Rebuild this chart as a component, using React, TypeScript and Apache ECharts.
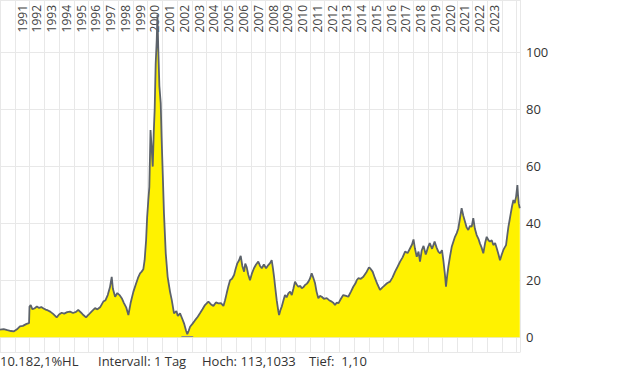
import React, { useEffect, useRef } from "react";
import * as echarts from "echarts";

// fractional years (time axis) and closing values
const dates = [
  1990.0, 1990.25, 1990.5, 1990.75, 1990.95, 1991.15, 1991.35, 1991.55, 1991.8, 1991.97,
  1992.0, 1992.08, 1992.2, 1992.35, 1992.5, 1992.65, 1992.8, 1992.95,
  1993.1, 1993.25, 1993.4, 1993.6, 1993.84,
  1994.0, 1994.18, 1994.35, 1994.55, 1994.74, 1994.95,
  1995.15, 1995.3, 1995.5, 1995.65, 1995.83,
  1996.0, 1996.2, 1996.44, 1996.6, 1996.78,
  1997.0, 1997.15, 1997.3, 1997.45, 1997.57, 1997.65, 1997.8, 1997.95,
  1998.1, 1998.25, 1998.4, 1998.55, 1998.7, 1998.85,
  1999.04, 1999.2, 1999.35, 1999.49, 1999.6, 1999.71, 1999.8, 1999.9, 1999.97,
  2000.05, 2000.12, 2000.2, 2000.28, 2000.35, 2000.42, 2000.48, 2000.55, 2000.62, 2000.67,
  2000.72, 2000.8, 2000.89, 2000.95,
  2001.03, 2001.11, 2001.23, 2001.36, 2001.52, 2001.64, 2001.79, 2001.95,
  2002.05, 2002.2, 2002.35, 2002.47, 2002.6, 2002.69, 2002.78, 2002.88,
  2003.05, 2003.22, 2003.4, 2003.55, 2003.72, 2003.89,
  2004.12, 2004.3, 2004.46, 2004.63, 2004.8, 2004.97,
  2005.14, 2005.25, 2005.36, 2005.48, 2005.59, 2005.72, 2005.86, 2005.97,
  2006.08, 2006.2, 2006.31, 2006.42, 2006.54, 2006.62, 2006.72, 2006.82, 2006.94,
  2007.08, 2007.21, 2007.35, 2007.5, 2007.62, 2007.74, 2007.88,
  2008.03, 2008.18, 2008.3, 2008.41, 2008.5, 2008.57, 2008.66, 2008.75, 2008.85, 2008.91,
  2009.0, 2009.09, 2009.2, 2009.31, 2009.42, 2009.54, 2009.66, 2009.77, 2009.88, 2009.99,
  2010.1, 2010.22, 2010.35, 2010.45, 2010.55, 2010.67, 2010.8, 2010.9,
  2011.0, 2011.12, 2011.22, 2011.35, 2011.45, 2011.57, 2011.68, 2011.8, 2011.95,
  2012.14, 2012.3, 2012.48, 2012.6, 2012.7, 2012.82, 2012.93,
  2013.1, 2013.26, 2013.45, 2013.6, 2013.78, 2013.94,
  2014.1, 2014.17, 2014.28, 2014.45, 2014.62, 2014.85,
  2015.0, 2015.08, 2015.25, 2015.41, 2015.58, 2015.75, 2015.92,
  2016.09, 2016.25, 2016.43, 2016.6, 2016.77, 2016.95,
  2017.11, 2017.28, 2017.45, 2017.62, 2017.79, 2017.92,
  2018.02, 2018.12, 2018.24, 2018.36, 2018.46, 2018.58, 2018.7, 2018.85,
  2019.0, 2019.12, 2019.28, 2019.45, 2019.58, 2019.7, 2019.82, 2019.95,
  2020.04, 2020.15, 2020.22, 2020.3, 2020.38, 2020.5, 2020.61, 2020.72, 2020.83, 2020.95,
  2021.06, 2021.18, 2021.28, 2021.4, 2021.51, 2021.62, 2021.73, 2021.85, 2021.96,
  2022.07, 2022.18, 2022.3, 2022.42, 2022.52, 2022.63, 2022.75, 2022.87, 2022.98,
  2023.1, 2023.2, 2023.32, 2023.43, 2023.55, 2023.66, 2023.78, 2023.88,
  2024.0, 2024.11, 2024.2, 2024.29, 2024.37, 2024.45, 2024.53, 2024.61, 2024.7, 2024.79, 2024.88, 2024.97,
  2025.06, 2025.1, 2025.15, 2025.22,
];

const prices = [
  2.7, 2.9, 2.5, 2.2, 2.1, 2.8, 3.8, 4.0, 4.7, 5.0,
  10.8, 11.3, 9.8, 10.2, 10.8, 10.3, 10.6, 10.1,
  9.7, 9.4, 9.0, 8.2, 7.0,
  8.0, 8.6, 8.3, 8.8, 9.0, 8.5,
  8.9, 9.6, 8.6, 7.8, 7.0,
  7.9, 9.0, 10.2, 9.8, 10.5,
  12.5, 13.0, 14.8, 17.5, 21.2, 17.0, 14.2, 15.5,
  14.8, 13.7, 12.0, 10.5, 7.8, 12.0,
  16.0, 18.5, 20.8, 22.4, 23.0, 23.8, 27.0, 34.0, 42.0,
  48.0, 52.7, 72.6, 66.0, 59.8, 72.0, 79.6, 96.0, 104.0, 113.1,
  102.0, 88.0, 82.0, 70.0,
  57.0, 43.5, 29.5, 21.2, 16.0, 13.0, 8.4, 9.2,
  7.5, 8.4, 6.5, 4.9, 2.5, 1.1, 2.2, 3.7,
  4.8, 6.0, 7.2, 8.4, 9.8, 11.3,
  12.5, 11.5, 11.0, 12.2, 11.9, 12.0,
  11.0, 13.0, 15.4, 18.0, 20.0, 20.5, 21.8, 24.0,
  25.9, 27.0, 28.5, 25.0, 23.0, 25.8, 24.5, 22.0, 20.0,
  22.5, 24.2, 25.5, 26.5, 25.0, 24.2, 25.5,
  24.2, 25.3, 26.0, 27.0, 24.0, 21.2, 17.0, 13.0, 9.5, 7.8,
  9.5, 10.7, 12.8, 14.8, 14.0, 15.4, 16.0, 14.8, 17.0, 19.5,
  18.5, 17.7, 18.0, 17.2, 17.5, 18.3, 18.8, 19.5,
  20.5, 22.4, 21.0, 18.9, 16.0, 13.7, 14.5, 14.2, 13.5,
  13.7, 13.0, 12.5, 12.0, 11.3, 12.2, 11.9,
  13.5, 14.8, 14.5, 14.2, 16.0, 17.7,
  19.0, 20.0, 20.7, 20.5, 21.2, 23.0,
  24.5, 24.2, 23.0, 20.7, 18.5, 16.6, 17.5,
  18.3, 19.0, 19.5, 21.0, 23.0, 24.8,
  26.5, 28.0, 30.0, 29.5, 31.2, 32.5,
  34.3, 31.0, 28.2, 30.0, 26.5, 30.5, 32.0, 29.0,
  31.5, 33.0, 31.0, 33.5, 31.5, 30.0, 29.4, 30.5,
  27.0, 22.0, 17.7, 21.5, 24.7, 28.5, 31.7, 33.5, 35.2, 36.5,
  38.2, 42.0, 45.2, 42.5, 40.5, 38.5, 37.6, 39.0, 38.7,
  41.7, 38.0, 35.8, 34.5, 32.9, 31.5, 29.4, 33.0, 35.2,
  34.0, 33.5, 34.0, 32.3, 33.0, 31.2, 29.0, 27.0,
  29.0, 30.6, 31.5, 32.3, 35.5, 38.7, 41.0, 43.4, 46.0, 48.1, 47.0, 49.2,
  53.3, 50.0, 46.9, 45.2,
];

// year bands 1990..2024; only the labelled years get text
const yearBands = [
  "1990", "1991", "1992", "1993", "1994", "1995", "1996", "1997", "1998", "1999",
  "2000", "2001", "2002", "2003", "2004", "2005", "2006", "2007", "2008", "2009",
  "2010", "2011", "2012", "2013", "2014", "2015", "2016", "2017", "2018", "2019",
  "2020", "2021", "2022", "2023", "2024",
];
const yearLabels = [
  "1991", "1992", "1993", "1994", "1995", "1996", "1997", "1998", "1999", "2000",
  "2001", "2002", "2003", "2004", "2005", "2006", "2007", "2008", "2009", "2010",
  "2011", "2012", "2013", "2014", "2015", "2016", "2017", "2018", "2019", "2020",
  "2021", "2022", "2023",
];
const yTickLabels = [0, 20, 40, 60, 80, 100];
const footerTexts = ["10.182,1%HL", "Intervall: 1 Tag", "Hoch: 113,1033", "Tief:\u00a0 1,10"];
const footerX = [0, 98, 202, 309];

const X_MIN = 1990;
const X_MAX = 2025.27;
const Y_MIN = -5.15;
const Y_MAX = 118.15;
const FONT = "'Open Sans', 'Noto Sans', sans-serif";

const PLOT_W = 520.5;
const PLOT_H = 352;

export default function App() {
  const ref = useRef<HTMLDivElement>(null);

  useEffect(() => {
    if (!ref.current) return;
    const chart = echarts.init(ref.current, null, { renderer: "svg" });
    const data = dates.map((d, i) => [d, prices[i]]);
    let lowIdx = 0;
    prices.forEach((p, i) => {
      if (p < prices[lowIdx]) lowIdx = i;
    });
    const lowX = dates[lowIdx];
    const lowV = prices[lowIdx];
    const pxPerYear = PLOT_W / (X_MAX - X_MIN);
    const bandW = pxPerYear * yearBands.length;

    chart.setOption({
      animation: false,
      grid: [
        { left: 0, top: 0, width: PLOT_W, height: PLOT_H, containLabel: false },
        { left: 0, top: 0, width: bandW, height: PLOT_H, containLabel: false },
      ],
      xAxis: [
        {
          type: "value",
          gridIndex: 0,
          min: X_MIN,
          max: X_MAX,
          minInterval: 1,
          maxInterval: 1,
          position: "bottom",
          axisLine: { show: false },
          axisTick: { show: false },
          axisLabel: { show: false },
          splitLine: { show: true, lineStyle: { color: "#e8e8e8", width: 1 } },
        },
        {
          type: "category",
          gridIndex: 1,
          data: yearBands,
          boundaryGap: true,
          position: "top",
          axisLine: { show: false },
          axisTick: { show: false },
          splitLine: { show: false },
          axisLabel: {
            inside: true,
            rotate: 90,
            margin: 5,
            interval: 0,
            hideOverlap: false,
            fontSize: 12,
            color: "#444",
            fontFamily: FONT,
            formatter: (v: string) => (yearLabels.includes(v) ? v : ""),
          },
        },
      ],
      yAxis: [
        {
          type: "value",
          gridIndex: 0,
          position: "right",
          min: Y_MIN,
          max: Y_MAX,
          minInterval: 20,
          maxInterval: 20,
          axisLine: { show: false },
          axisTick: { show: false },
          axisLabel: {
            margin: 5.5,
            fontSize: 13,
            color: "#333",
            fontFamily: FONT,
            showMinLabel: false,
            showMaxLabel: false,
            formatter: (v: number) => {
              const r = Math.round(v);
              return Math.abs(v - r) < 1e-6 && yTickLabels.includes(r) ? String(r) : "";
            },
          },
          splitLine: { show: true, lineStyle: { color: "#e8e8e8", width: 1 } },
        },
        {
          type: "value",
          gridIndex: 1,
          show: false,
          min: 0,
          max: 1,
        },
      ],
      series: [
        {
          type: "line",
          xAxisIndex: 0,
          yAxisIndex: 0,
          data,
          showSymbol: false,
          symbol: "none",
          lineStyle: { color: "#5c626a", width: 1.8 },
          areaStyle: { color: "#fff200", opacity: 1 },
          markLine: {
            silent: true,
            symbol: "none",
            label: { show: false },
            lineStyle: { color: "#8a8a8a", width: 1, type: "solid" },
            data: [[{ coord: [lowX - 0.4, lowV - 0.6] }, { coord: [lowX + 0.4, lowV - 0.6] }]],
          },
        },
      ],
      graphic: footerTexts.map((t, i) => ({
        type: "text",
        left: footerX[i],
        top: 354,
        style: { text: t, fontSize: 13, fill: "#333", fontFamily: FONT },
      })),
    });
    return () => chart.dispose();
  }, []);

  return (
    <div
      ref={ref}
      style={{ position: "absolute", left: 0, top: 0, width: 620, height: 372 }}
    />
  );
}
